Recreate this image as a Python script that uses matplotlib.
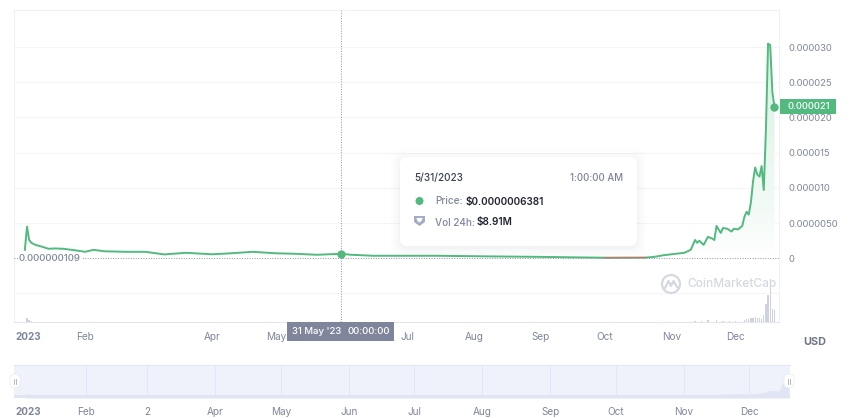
import numpy as np
import pandas as pd
import matplotlib
matplotlib.use("Agg")
import matplotlib.pyplot as plt
import matplotlib.dates as mdates
from matplotlib.colors import LinearSegmentedColormap
from matplotlib.patches import FancyBboxPatch, Circle, Rectangle, Polygon
from matplotlib.transforms import ScaledTranslation

plt.rcParams["font.family"] = ["Inter", "DejaVu Sans"]

# price, units of 1e-6 USD
price_dates = ["2023-01-04", "2023-01-05", "2023-01-06", "2023-01-07", "2023-01-09", "2023-01-12",
               "2023-01-15", "2023-01-18", "2023-01-22", "2023-01-27", "2023-02-01", "2023-02-05",
               "2023-02-10", "2023-02-20", "2023-03-01", "2023-03-10", "2023-03-20", "2023-04-01",
               "2023-04-10", "2023-04-20", "2023-05-01", "2023-05-10", "2023-05-20", "2023-05-31",
               "2023-06-05", "2023-06-15", "2023-07-15", "2023-08-05", "2023-09-01", "2023-09-15",
               "2023-10-01", "2023-10-10", "2023-10-20", "2023-10-24", "2023-10-28", "2023-11-01",
               "2023-11-05", "2023-11-07", "2023-11-10", "2023-11-12", "2023-11-13", "2023-11-14",
               "2023-11-16", "2023-11-18", "2023-11-20", "2023-11-21", "2023-11-22", "2023-11-24",
               "2023-11-25", "2023-11-27", "2023-11-29", "2023-11-30", "2023-12-02", "2023-12-04",
               "2023-12-05", "2023-12-06", "2023-12-07", "2023-12-08", "2023-12-09", "2023-12-10",
               "2023-12-11", "2023-12-12", "2023-12-13", "2023-12-14", "2023-12-15", "2023-12-16",
               "2023-12-17", "2023-12-18", "2023-12-19"]
price_vals = [1.2, 4.5, 2.6, 2.2, 1.9, 1.65,
              1.35, 1.4, 1.35, 1.15, 0.92, 1.2,
              1.0, 0.92, 0.92, 0.55, 0.78, 0.57,
              0.71, 0.92, 0.71, 0.64, 0.5, 0.6381,
              0.5, 0.36, 0.36, 0.28, 0.2, 0.14,
              0.08, 0.09, 0.1, 0.2, 0.42, 0.57,
              0.71, 0.78, 1.2, 2.6, 2.2, 2.5,
              1.9, 3.05, 2.8, 2.6, 4.6, 3.6,
              4.3, 4.2, 3.8, 4.2, 4.1, 4.6,
              5.9, 6.6, 6.2, 7.9, 10.9, 12.9,
              11.9, 11.6, 13.1, 9.7, 18.2, 30.5,
              30.3, 23.6, 21.5]

# 24h volume in million USD
vol_dates = ["2023-01-05", "2023-01-06", "2023-01-07", "2023-05-31", "2023-11-12", "2023-11-15",
             "2023-11-18", "2023-11-22", "2023-11-25", "2023-11-28", "2023-12-01", "2023-12-05",
             "2023-12-06", "2023-12-07", "2023-12-08", "2023-12-09", "2023-12-10", "2023-12-11",
             "2023-12-12", "2023-12-13", "2023-12-14", "2023-12-15", "2023-12-16", "2023-12-17",
             "2023-12-18", "2023-12-19"]
vol_vals = [40, 25, 15, 8.91, 12, 15,
            18, 25, 15, 12, 10, 25,
            35, 30, 45, 40, 55, 40,
            45, 35, 70, 180, 270, 430,
            130, 120]

price_ticks = [0, 5, 10, 15, 20, 25, 30]
price_tick_labels = ["0", "0.0000050", "0.000010", "0.000015", "0.000020", "0.000025", "0.000030"]
grid_extra = [-5]
baseline = 0.109
last_price_label = "0.000021"
month_ticks = ["2023-01-01", "2023-02-01", "2023-04-01", "2023-05-01", "2023-07-01", "2023-08-01",
               "2023-09-01", "2023-10-01", "2023-11-01", "2023-12-01"]
month_labels = ["2023", "Feb", "Apr", "May", "Jul", "Aug", "Sep", "Oct", "Nov", "Dec"]
nav_ticks = ["2023-01-01", "2023-02-01", "2023-03-01", "2023-04-01", "2023-05-01", "2023-06-01",
             "2023-07-01", "2023-08-01", "2023-09-01", "2023-10-01", "2023-11-01", "2023-12-01"]
nav_labels = ["2023", "Feb", "2", "Apr", "May", "Jun", "Jul", "Aug", "Sep", "Oct", "Nov", "Dec"]

GREEN = "#52b97f"
GREY = "#7f869c"
W, H = 861, 418

dates = pd.to_datetime(price_dates)
prices = np.array(price_vals)


def px_axes(x0, y0, x1, y1, **kw):
    return fig.add_axes([x0 / W, 1 - y1 / H, (x1 - x0) / W, (y1 - y0) / H], **kw)


fig = plt.figure(figsize=(W / 100, H / 100), dpi=100)
shift_left = ScaledTranslation(-3 / 100, 0, fig.dpi_scale_trans)

# main chart
ax = px_axes(14, 10, 779, 322)
jan1 = mdates.date2num(pd.Timestamp("2023-01-01"))
start = jan1 + (14 - 18.4) / 2.148
end = start + 765 / 2.148

# volume bars share the x axis, drawn on a hidden scale
vax = ax.twinx()
vax.set_ylim(0, 3120)
vax.axis("off")
vax.bar(pd.to_datetime(vol_dates), vol_vals, width=0.6, color="#cdd1e2", zorder=1)

ax.set_xlim(start, end)
ax.set_ylim(-9.05, 35.27)
for s in ax.spines.values():
    s.set_color("#eff2f5")
    s.set_linewidth(0.8)
ax.spines["bottom"].set_color("#e3e6ec")
for v in price_ticks[1:] + grid_extra:
    ax.axhline(v, color="#f3f5f8", lw=0.8, zorder=0)
ax.set_yticks(price_ticks)
ax.set_yticklabels(price_tick_labels)
ax.yaxis.tick_right()
ax.tick_params(axis="y", length=0, pad=6.5, labelsize=6.8, labelcolor=GREY)
ax.set_xticks(mdates.date2num(pd.to_datetime(month_ticks)))
ax.set_xticklabels(month_labels)
ax.tick_params(axis="x", length=0, pad=7.3, labelsize=7.2, labelcolor=GREY)
lbl = ax.get_xticklabels()[0]
lbl.set_fontweight("bold")
lbl.set_ha("left")
lbl.set_transform(lbl.get_transform() + shift_left)

# gradient under the price line
cmap = LinearSegmentedColormap.from_list("fade", ["#ffffff", "#d9f1e3"])
poly = ax.fill_between(dates, 0, prices, color="none")
img = ax.imshow(np.linspace(1, 0, 256).reshape(-1, 1) ** 0.8, cmap=cmap, aspect="auto",
                extent=[start, end, 0, 30.5], zorder=1, vmin=0, vmax=1)
img.set_clip_path(poly.get_paths()[0], transform=ax.transData)
ax.set_xlim(start, end)
ax.set_ylim(-9.05, 35.27)

ax.plot(dates, prices, color=GREEN, lw=1.4, zorder=3, solid_joinstyle="round")
ax.plot(dates, np.ma.masked_where(prices >= baseline, prices), color="#c9735f", lw=0.9, zorder=4)
ax.axhline(baseline, color="#8d93a5", lw=0.7, ls=(0, (1, 1.6)), zorder=4)

# hover crosshair and last price
hover = pd.Timestamp("2023-05-31")
ax.axvline(hover, color="#8d93a5", lw=0.7, ls=(0, (1, 1.6)), zorder=4)
ax.plot([hover], [0.6381], "o", ms=5, color=GREEN, zorder=5)
ax.plot(dates[-1:], prices[-1:], "o", ms=5, color=GREEN, zorder=5, clip_on=False)

# navigator
nav = px_axes(14, 365, 790, 398)
nav.set_xlim(jan1 - 1.9, jan1 + 352.5)
nav.set_ylim(-7, 80)
nav.set_facecolor("#eff1fb")
for s in nav.spines.values():
    s.set_visible(False)
nav.spines["top"].set_visible(True)
nav.spines["top"].set_color("#e2e6f5")
nav.fill_between(dates, -7, prices, color="#e1e4f3", lw=0)
nav.axhspan(-7, 0, color="#e1e4f3", lw=0)
nav.set_yticks([])
nav.set_xticks(mdates.date2num(pd.to_datetime(nav_ticks)))
nav.set_xticklabels(nav_labels)
nav.tick_params(axis="x", length=0, pad=6.3, labelsize=7.2, labelcolor=GREY)
lbl = nav.get_xticklabels()[0]
lbl.set_fontweight("bold")
lbl.set_ha("left")
lbl.set_transform(lbl.get_transform() + shift_left)
for t in nav_ticks[1:]:
    nav.axvline(pd.Timestamp(t), color="#e3e6f4", lw=0.7)

# overlay for the labels, tooltip and handles, in pixels
ov = fig.add_axes([0, 0, 1, 1], zorder=10)
ov.set_xlim(0, W)
ov.set_ylim(H, 0)
ov.axis("off")

# baseline tag
ov.add_patch(Rectangle((18, 252), 64, 12, fc="white", ec="none"))
ov.text(49, 258.5, "0.000000109", color=GREY, fontsize=6.9, ha="center", va="center", fontweight="medium")

# last price tag
ov.add_patch(Rectangle((780, 99), 56, 15, fc=GREEN, ec="none"))
ov.text(787, 106.8, last_price_label, color="white", fontsize=6.8, ha="left", va="center", fontweight="medium")

# crosshair date tag
ov.add_patch(Rectangle((287, 322), 107, 19, fc=GREY, ec="none"))
ov.text(292, 332, "31 May '23", color="white", fontsize=6.9, ha="left", va="center", fontweight="medium")
ov.text(347, 332, "00:00:00", color="white", fontsize=6.9, ha="left", va="center", fontweight="medium")

ov.text(815, 342, "USD", color="#6f7689", fontsize=7.8, ha="center", va="center", fontweight="bold")

# tooltip
for grow, a in [(9, 0.01), (6, 0.015), (3, 0.02), (1, 0.025)]:
    ov.add_patch(FancyBboxPatch((400 - grow, 159 - grow), 237 + 2 * grow, 89 + 2 * grow,
                                boxstyle="round,pad=0,rounding_size=9", fc="#58667e", ec="none", alpha=a))
ov.add_patch(FancyBboxPatch((400, 157), 237, 89, boxstyle="round,pad=0,rounding_size=7", fc="white", ec="none"))
ov.text(414, 178, "5/31/2023", color="#3a4152", fontsize=7.2, va="center", fontweight="medium")
ov.text(623, 178, "1:00:00 AM", color=GREY, fontsize=7, va="center", ha="right", fontweight="medium")
ov.add_patch(Circle((419.5, 201), 4, fc=GREEN, ec="none"))
ov.text(435, 201.5, "Price:", color=GREY, fontsize=7.2, va="center", fontweight="medium")
ov.text(466, 201.5, "$0.0000006381", color="#222531", fontsize=7.2, va="center", fontweight="semibold")
ov.add_patch(Polygon([(414, 216), (425, 216), (425, 222), (419.5, 226), (414, 222)], fc="#a6acc4", ec="none"))
ov.add_patch(Polygon([(416.5, 218), (422.5, 218), (421.5, 221), (419.5, 222.5), (417.5, 221)], fc="white", ec="none"))
ov.text(435, 222.5, "Vol 24h:", color=GREY, fontsize=7.2, va="center", fontweight="medium")
ov.text(477, 222.5, "$8.91M", color="#222531", fontsize=7.2, va="center", fontweight="semibold")

# watermark
ov.add_patch(Circle((671, 284), 9, fc="none", ec="#d5d8e0", lw=1.6))
ov.plot([665, 668.5, 671, 673.5, 677], [288, 281, 286, 281, 287], color="#d5d8e0", lw=1.6)
ov.text(687, 284, "CoinMarketCap", color="#d5d8e0", fontsize=8.6, va="center", ha="left", fontweight="medium")

# navigator handles
for hx in (15, 789):
    ov.add_patch(FancyBboxPatch((hx - 5, 374), 10, 14, boxstyle="round,pad=0,rounding_size=5",
                                fc="white", ec="#eceef5", lw=0.6))
    ov.plot([hx - 1, hx - 1], [379, 384], color="#a6acc4", lw=0.6)
    ov.plot([hx + 1, hx + 1], [379, 384], color="#a6acc4", lw=0.6)

fig.savefig("out.png", dpi=100)
